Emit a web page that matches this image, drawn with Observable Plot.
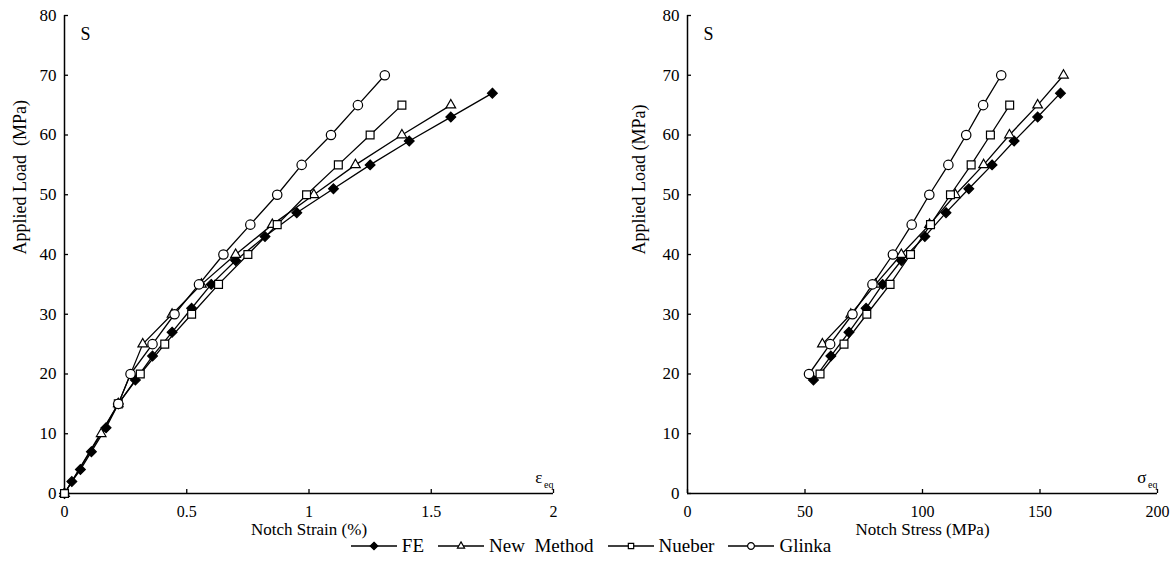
<!DOCTYPE html>
<html>
<head>
<meta charset="utf-8">
<script src="https://cdn.jsdelivr.net/npm/d3@7"></script>
<script src="https://cdn.jsdelivr.net/npm/@observablehq/plot@0.6"></script>
<style>
  body { margin: 0; background: #fff; font-family: 'Liberation Serif', 'Times New Roman', serif; }
  #row { display: flex; width: 1172px; height: 537px; }
  #legend { display: flex; justify-content: center; align-items: center; width: 1172px; height: 18px; font-size: 19px; line-height: 18px; color: #000; padding-left: 10px; box-sizing: border-box; }
  .item { display: flex; align-items: center; margin: 0 7px; }
  .item svg { margin-right: 5px; }
</style>
</head>
<body>
<div id="row"></div>
<div id="legend"></div>
<script>
// ---------- data ----------
const seriesNames = ["FE", "New\u00a0 Method", "Nueber", "Glinka"];

// Left panel: notch strain (%) vs applied load (MPa)
const strainFE      = [0, 0.03, 0.065, 0.11, 0.17, 0.22, 0.29, 0.36, 0.44, 0.52, 0.60, 0.70, 0.82, 0.95, 1.10, 1.25, 1.41, 1.58, 1.75];
const loadFE_L      = [0, 2, 4, 7, 11, 15, 19, 23, 27, 31, 35, 39, 43, 47, 51, 55, 59, 63, 67];
const strainNew     = [0, 0.15, 0.22, 0.32, 0.44, 0.56, 0.70, 0.85, 1.02, 1.19, 1.38, 1.58];
const loadNew_L     = [0, 10, 15, 25, 30, 35, 40, 45, 50, 55, 60, 65];
const strainNueber  = [0, 0.22, 0.31, 0.41, 0.52, 0.63, 0.75, 0.87, 0.99, 1.12, 1.25, 1.38];
const loadNueber_L  = [0, 15, 20, 25, 30, 35, 40, 45, 50, 55, 60, 65];
const strainGlinka  = [0.22, 0.27, 0.36, 0.45, 0.55, 0.65, 0.76, 0.87, 0.97, 1.09, 1.20, 1.31];
const loadGlinka_L  = [15, 20, 25, 30, 35, 40, 45, 50, 55, 60, 65, 70];

// Right panel: notch stress (MPa) vs applied load (MPa)
const stressFE      = [53.6, 61, 68.7, 76, 83, 91, 101, 110, 119.7, 129.6, 139, 149, 158.7];
const loadFE_R      = [19, 23, 27, 31, 35, 39, 43, 47, 51, 55, 59, 63, 67];
const stressNew     = [57.4, 69.5, 80, 91, 103, 114, 126, 137, 149, 160];
const loadNew_R     = [25, 30, 35, 40, 45, 50, 55, 60, 65, 70];
const stressNueber  = [56.4, 66.6, 76.3, 86.2, 94.9, 103.4, 111.9, 120.7, 128.9, 137.1];
const loadNueber_R  = [20, 25, 30, 35, 40, 45, 50, 55, 60, 65];
const stressGlinka  = [51.7, 60.7, 70.2, 78.7, 87.4, 95.4, 102.9, 111, 118.6, 125.8, 133.5];
const loadGlinka_R  = [20, 25, 30, 35, 40, 45, 50, 55, 60, 65, 70];

const xTicksL = [0, 0.5, 1, 1.5, 2];
const xTicksR = [0, 50, 100, 150, 200];
const yTicks  = [0, 10, 20, 30, 40, 50, 60, 70, 80];

// ---------- helpers ----------
const SERIF = "'Liberation Serif', 'Times New Roman', serif";
const rows = (xs, ys, s) => xs.map((x, i) => ({x, y: ys[i], s}));
const symbolOf = {FE: "diamond2", New: "triangle2", Nueber: "square2", Glinka: "circle"};
const d3Symbol = {FE: d3.symbolDiamond2, New: d3.symbolTriangle2, Nueber: d3.symbolSquare2, Glinka: d3.symbolCircle};
const radius = {FE: 4.4, New: 4.6, Nueber: 5, Glinka: 4.7};
const keys = ["FE", "New", "Nueber", "Glinka"];

function panel(series, opts) {
  const all = series.flat();
  const dotMarks = keys.map((k, i) => Plot.dot(series[i], {
    x: "x", y: "y", symbol: () => symbolOf[k], r: radius[k],
    fill: k === "FE" ? "black" : "white", stroke: "black", strokeWidth: 1.2
  }));
  return Plot.plot({
    width: opts.width, height: 537,
    marginLeft: opts.marginLeft, marginRight: opts.marginRight, marginTop: 15, marginBottom: 44,
    style: {fontFamily: SERIF, fontSize: "16px", background: "white", color: "black", overflow: "visible"},
    x: {domain: opts.xDomain},
    y: {domain: [0, 80]},
    symbol: {type: "identity"},
    marks: [
      Plot.axisX({ticks: opts.xTicks, tickSize: 0, tickPadding: 12, label: null, tickFormat: d => String(d), fontSize: 16}),
      Plot.axisX({ticks: opts.xTicks, tickSize: 4, dy: -4, label: null, tickFormat: () => "", strokeWidth: 1.3}),
      Plot.axisY({ticks: yTicks, tickSize: 0, tickPadding: 8, label: null, tickFormat: d => String(d), fontSize: 17}),
      Plot.axisY({ticks: yTicks, tickSize: 4, dx: 4, label: null, tickFormat: () => "", strokeWidth: 1.3}),
      Plot.ruleX([0], {strokeWidth: 1.5}),
      Plot.ruleY([0], {strokeWidth: 1.5}),
      Plot.line(all, {x: "x", y: "y", z: "s", stroke: "black", strokeWidth: 1.3}),
      ...dotMarks,
      Plot.text(["S"], {text: d => d, frameAnchor: "top-left", dx: 16, dy: 12, fontSize: 18}),
      Plot.text([opts.sym], {text: d => d, frameAnchor: "bottom-right", textAnchor: "end", dx: -11, dy: -11, fontSize: 17}),
      Plot.text(["eq"], {text: d => d, frameAnchor: "bottom-right", textAnchor: "end", dx: 0, dy: -6, fontSize: 10}),
      Plot.text([opts.yLabel], {text: d => d, frameAnchor: "left", dx: opts.yLabelDx, rotate: -90, fontSize: 18}),
      Plot.text([opts.xLabel], {text: d => d, frameAnchor: "bottom", dy: 41, fontSize: 17})
    ]
  });
}

const left = panel([
  rows(strainFE, loadFE_L, "FE"),
  rows(strainNew, loadNew_L, "New"),
  rows(strainNueber, loadNueber_L, "Nueber"),
  rows(strainGlinka, loadGlinka_L, "Glinka")
], {width: 620, marginLeft: 64, marginRight: 67, xDomain: [0, 2], xTicks: xTicksL,
    sym: "\u03b5", yLabel: "Applied Load\u00a0 (MPa)", yLabelDx: -44, xLabel: "Notch Strain (%)"});

const right = panel([
  rows(stressFE, loadFE_R, "FE"),
  rows(stressNew, loadNew_R, "New"),
  rows(stressNueber, loadNueber_R, "Nueber"),
  rows(stressGlinka, loadGlinka_R, "Glinka")
], {width: 552, marginLeft: 67, marginRight: 15, xDomain: [0, 200], xTicks: xTicksR,
    sym: "\u03c3", yLabel: "Applied Load (MPa)", yLabelDx: -48, xLabel: "Notch Stress (MPa)"});

document.getElementById("row").append(left, right);

// ---------- legend ----------
const legend = d3.select("#legend");
keys.forEach((k, i) => {
  const item = legend.append("div").attr("class", "item");
  const svg = item.append("svg").attr("width", 46).attr("height", 16);
  svg.append("line").attr("x1", 0).attr("x2", 46).attr("y1", 8).attr("y2", 8)
    .attr("stroke", "black").attr("stroke-width", 1.3);
  const r = 3.4;
  svg.append("path").attr("transform", "translate(23,8)")
    .attr("d", d3.symbol(d3Symbol[k], Math.PI * r * r)())
    .attr("fill", k === "FE" ? "black" : "white").attr("stroke", "black").attr("stroke-width", 1.2);
  item.append("span").text(seriesNames[i]);
});
</script>
</body>
</html>
